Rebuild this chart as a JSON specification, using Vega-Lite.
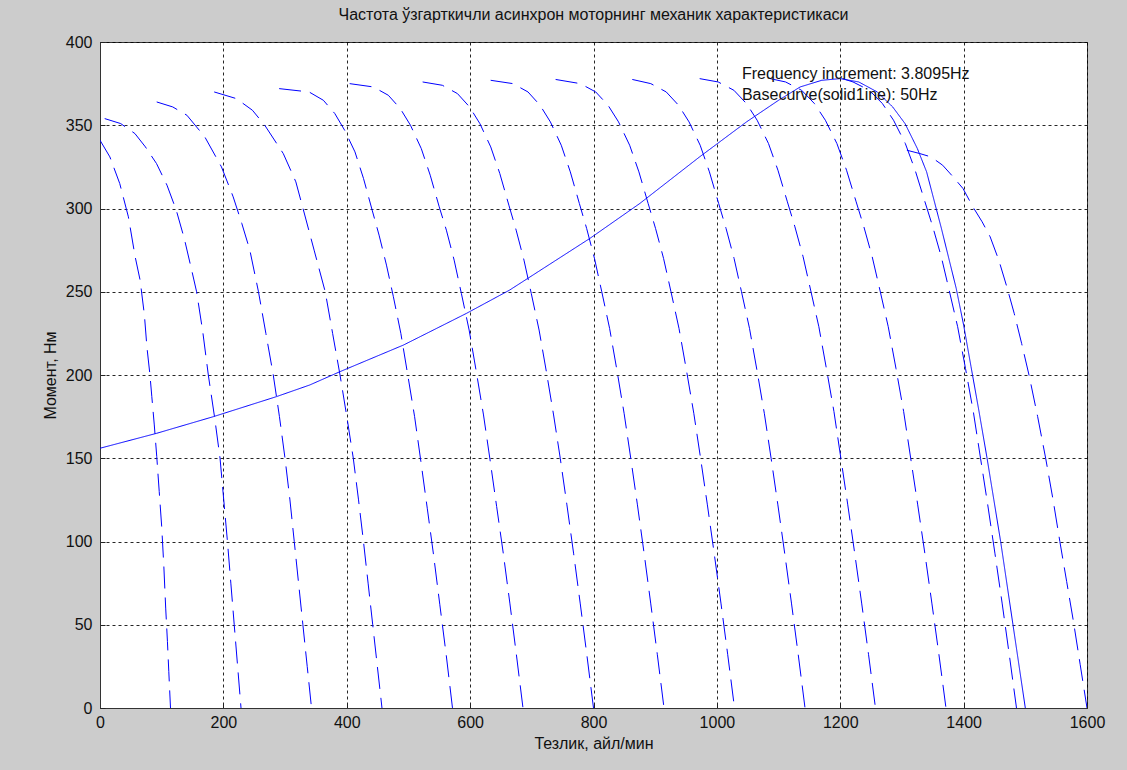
{
  "$schema": "https://vega.github.io/schema/vega-lite/v6.json",
  "width": 987,
  "height": 666,
  "autosize": {"type": "none"},
  "padding": {"left": 100, "top": 42, "right": 40, "bottom": 62},
  "background": "#cccccc",
  "config": {
    "view": {"fill": "white", "stroke": "#333333", "strokeWidth": 1},
    "font": "Liberation Sans",
    "axis": {
      "grid": true,
      "gridColor": "#000000",
      "gridDash": [3, 3],
      "gridWidth": 1,
      "gridOpacity": 0.85,
      "ticks": true,
      "tickSize": -5,
      "tickColor": "#222222",
      "domainColor": "#333333",
      "labelFont": "Liberation Sans",
      "labelFontSize": 16,
      "labelColor": "#111111",
      "titleFont": "Liberation Sans",
      "titleFontSize": 16,
      "titleFontWeight": "normal",
      "titleColor": "#111111"
    }
  },
  "title": {
    "text": "Частота ўзгарткичли асинхрон моторнинг механик характеристикаси",
    "font": "Liberation Sans",
    "fontSize": 16,
    "fontWeight": "normal",
    "color": "#111111",
    "anchor": "middle",
    "offset": 11
  },
  "datasets": {
    "curves": [
      {"c": 1, "s": "dashed", "x": 0, "y": 341}, {"c": 1, "s": "dashed", "x": 16, "y": 331}, {"c": 1, "s": "dashed", "x": 32, "y": 315}, {"c": 1, "s": "dashed", "x": 46, "y": 295}, {"c": 1, "s": "dashed", "x": 57, "y": 271}, {"c": 1, "s": "dashed", "x": 65, "y": 257}, {"c": 1, "s": "dashed", "x": 72, "y": 236}, {"c": 1, "s": "dashed", "x": 76, "y": 217}, {"c": 1, "s": "dashed", "x": 81, "y": 200}, {"c": 1, "s": "dashed", "x": 84, "y": 187}, {"c": 1, "s": "dashed", "x": 88, "y": 170}, {"c": 1, "s": "dashed", "x": 92, "y": 151}, {"c": 1, "s": "dashed", "x": 96, "y": 130}, {"c": 1, "s": "dashed", "x": 100, "y": 109}, {"c": 1, "s": "dashed", "x": 103.5, "y": 85}, {"c": 1, "s": "dashed", "x": 106.5, "y": 60}, {"c": 1, "s": "dashed", "x": 109.3, "y": 40}, {"c": 1, "s": "dashed", "x": 111.5, "y": 22}, {"c": 1, "s": "dashed", "x": 114.3, "y": 0},
      {"c": 2, "s": "dashed", "x": 7.6, "y": 354}, {"c": 2, "s": "dashed", "x": 33.6, "y": 351}, {"c": 2, "s": "dashed", "x": 56.6, "y": 345}, {"c": 2, "s": "dashed", "x": 73.6, "y": 337}, {"c": 2, "s": "dashed", "x": 91.6, "y": 327}, {"c": 2, "s": "dashed", "x": 108.6, "y": 314}, {"c": 2, "s": "dashed", "x": 123.6, "y": 299}, {"c": 2, "s": "dashed", "x": 136.6, "y": 282}, {"c": 2, "s": "dashed", "x": 148.6, "y": 263}, {"c": 2, "s": "dashed", "x": 156.6, "y": 250}, {"c": 2, "s": "dashed", "x": 166.6, "y": 226}, {"c": 2, "s": "dashed", "x": 175.6, "y": 200}, {"c": 2, "s": "dashed", "x": 185.6, "y": 175}, {"c": 2, "s": "dashed", "x": 194.6, "y": 150}, {"c": 2, "s": "dashed", "x": 200.6, "y": 125}, {"c": 2, "s": "dashed", "x": 206.6, "y": 100}, {"c": 2, "s": "dashed", "x": 212.1, "y": 75}, {"c": 2, "s": "dashed", "x": 217.6, "y": 50}, {"c": 2, "s": "dashed", "x": 223.1, "y": 25}, {"c": 2, "s": "dashed", "x": 228.6, "y": 0},
      {"c": 3, "s": "dashed", "x": 91.9, "y": 364}, {"c": 3, "s": "dashed", "x": 117.9, "y": 361}, {"c": 3, "s": "dashed", "x": 140.9, "y": 356}, {"c": 3, "s": "dashed", "x": 169.9, "y": 343}, {"c": 3, "s": "dashed", "x": 196.9, "y": 325}, {"c": 3, "s": "dashed", "x": 215.9, "y": 307}, {"c": 3, "s": "dashed", "x": 229.9, "y": 291}, {"c": 3, "s": "dashed", "x": 242.9, "y": 275}, {"c": 3, "s": "dashed", "x": 256.9, "y": 250}, {"c": 3, "s": "dashed", "x": 268.9, "y": 225}, {"c": 3, "s": "dashed", "x": 280.9, "y": 200}, {"c": 3, "s": "dashed", "x": 290.9, "y": 175}, {"c": 3, "s": "dashed", "x": 299.9, "y": 150}, {"c": 3, "s": "dashed", "x": 307.9, "y": 125}, {"c": 3, "s": "dashed", "x": 314.9, "y": 100}, {"c": 3, "s": "dashed", "x": 321.9, "y": 75}, {"c": 3, "s": "dashed", "x": 328.9, "y": 50}, {"c": 3, "s": "dashed", "x": 335.9, "y": 25}, {"c": 3, "s": "dashed", "x": 342.9, "y": 0},
      {"c": 4, "s": "dashed", "x": 185.1, "y": 370}, {"c": 4, "s": "dashed", "x": 221.1, "y": 366}, {"c": 4, "s": "dashed", "x": 247.1, "y": 359}, {"c": 4, "s": "dashed", "x": 267.1, "y": 350}, {"c": 4, "s": "dashed", "x": 297.1, "y": 333}, {"c": 4, "s": "dashed", "x": 317.5, "y": 316}, {"c": 4, "s": "dashed", "x": 329.1, "y": 300}, {"c": 4, "s": "dashed", "x": 347.1, "y": 275}, {"c": 4, "s": "dashed", "x": 365.1, "y": 250}, {"c": 4, "s": "dashed", "x": 377.1, "y": 225}, {"c": 4, "s": "dashed", "x": 389.1, "y": 200}, {"c": 4, "s": "dashed", "x": 400.1, "y": 175}, {"c": 4, "s": "dashed", "x": 410.6, "y": 150}, {"c": 4, "s": "dashed", "x": 419.1, "y": 125}, {"c": 4, "s": "dashed", "x": 427.1, "y": 100}, {"c": 4, "s": "dashed", "x": 434.6, "y": 75}, {"c": 4, "s": "dashed", "x": 442.1, "y": 50}, {"c": 4, "s": "dashed", "x": 449.6, "y": 25}, {"c": 4, "s": "dashed", "x": 457.1, "y": 0},
      {"c": 5, "s": "dashed", "x": 290.4, "y": 372}, {"c": 5, "s": "dashed", "x": 338.9, "y": 370}, {"c": 5, "s": "dashed", "x": 362.1, "y": 365}, {"c": 5, "s": "dashed", "x": 380.7, "y": 357}, {"c": 5, "s": "dashed", "x": 396.6, "y": 347}, {"c": 5, "s": "dashed", "x": 413.3, "y": 334}, {"c": 5, "s": "dashed", "x": 427.2, "y": 318}, {"c": 5, "s": "dashed", "x": 441.2, "y": 299}, {"c": 5, "s": "dashed", "x": 452.4, "y": 284}, {"c": 5, "s": "dashed", "x": 464.4, "y": 266}, {"c": 5, "s": "dashed", "x": 475.6, "y": 247}, {"c": 5, "s": "dashed", "x": 487.7, "y": 225}, {"c": 5, "s": "dashed", "x": 498.9, "y": 200}, {"c": 5, "s": "dashed", "x": 510.0, "y": 175}, {"c": 5, "s": "dashed", "x": 520.2, "y": 148}, {"c": 5, "s": "dashed", "x": 530.5, "y": 120}, {"c": 5, "s": "dashed", "x": 540.7, "y": 92}, {"c": 5, "s": "dashed", "x": 550.9, "y": 62}, {"c": 5, "s": "dashed", "x": 561.2, "y": 32}, {"c": 5, "s": "dashed", "x": 571.4, "y": 0},
      {"c": 6, "s": "dashed", "x": 404.7, "y": 375}, {"c": 6, "s": "dashed", "x": 443.2, "y": 373}, {"c": 6, "s": "dashed", "x": 467.4, "y": 368}, {"c": 6, "s": "dashed", "x": 486.8, "y": 360}, {"c": 6, "s": "dashed", "x": 503.3, "y": 350}, {"c": 6, "s": "dashed", "x": 520.8, "y": 336}, {"c": 6, "s": "dashed", "x": 535.3, "y": 320}, {"c": 6, "s": "dashed", "x": 549.9, "y": 301}, {"c": 6, "s": "dashed", "x": 561.5, "y": 287}, {"c": 6, "s": "dashed", "x": 574.1, "y": 269}, {"c": 6, "s": "dashed", "x": 585.8, "y": 249}, {"c": 6, "s": "dashed", "x": 598.4, "y": 227}, {"c": 6, "s": "dashed", "x": 610.0, "y": 202}, {"c": 6, "s": "dashed", "x": 621.7, "y": 176}, {"c": 6, "s": "dashed", "x": 632.3, "y": 149}, {"c": 6, "s": "dashed", "x": 643.0, "y": 121}, {"c": 6, "s": "dashed", "x": 653.7, "y": 93}, {"c": 6, "s": "dashed", "x": 664.4, "y": 63}, {"c": 6, "s": "dashed", "x": 675.0, "y": 32}, {"c": 6, "s": "dashed", "x": 685.7, "y": 0},
      {"c": 7, "s": "dashed", "x": 523, "y": 376}, {"c": 7, "s": "dashed", "x": 555, "y": 374}, {"c": 7, "s": "dashed", "x": 579.5, "y": 369}, {"c": 7, "s": "dashed", "x": 599.1, "y": 361}, {"c": 7, "s": "dashed", "x": 615.8, "y": 351}, {"c": 7, "s": "dashed", "x": 633.4, "y": 337}, {"c": 7, "s": "dashed", "x": 648.1, "y": 321}, {"c": 7, "s": "dashed", "x": 662.8, "y": 302}, {"c": 7, "s": "dashed", "x": 674.6, "y": 287}, {"c": 7, "s": "dashed", "x": 687.3, "y": 269}, {"c": 7, "s": "dashed", "x": 699.1, "y": 249}, {"c": 7, "s": "dashed", "x": 711.8, "y": 227}, {"c": 7, "s": "dashed", "x": 723.6, "y": 202}, {"c": 7, "s": "dashed", "x": 735.3, "y": 176}, {"c": 7, "s": "dashed", "x": 746.1, "y": 150}, {"c": 7, "s": "dashed", "x": 756.9, "y": 122}, {"c": 7, "s": "dashed", "x": 767.7, "y": 93}, {"c": 7, "s": "dashed", "x": 778.4, "y": 63}, {"c": 7, "s": "dashed", "x": 789.2, "y": 32}, {"c": 7, "s": "dashed", "x": 800, "y": 0},
      {"c": 8, "s": "dashed", "x": 633.3, "y": 377}, {"c": 8, "s": "dashed", "x": 669.3, "y": 375}, {"c": 8, "s": "dashed", "x": 693.8, "y": 370}, {"c": 8, "s": "dashed", "x": 713.4, "y": 362}, {"c": 8, "s": "dashed", "x": 730.1, "y": 352}, {"c": 8, "s": "dashed", "x": 747.7, "y": 338}, {"c": 8, "s": "dashed", "x": 762.4, "y": 322}, {"c": 8, "s": "dashed", "x": 777.1, "y": 303}, {"c": 8, "s": "dashed", "x": 788.9, "y": 288}, {"c": 8, "s": "dashed", "x": 801.6, "y": 270}, {"c": 8, "s": "dashed", "x": 813.4, "y": 250}, {"c": 8, "s": "dashed", "x": 826.1, "y": 228}, {"c": 8, "s": "dashed", "x": 837.9, "y": 203}, {"c": 8, "s": "dashed", "x": 849.6, "y": 177}, {"c": 8, "s": "dashed", "x": 860.4, "y": 150}, {"c": 8, "s": "dashed", "x": 871.2, "y": 122}, {"c": 8, "s": "dashed", "x": 882.0, "y": 93}, {"c": 8, "s": "dashed", "x": 892.7, "y": 63}, {"c": 8, "s": "dashed", "x": 903.5, "y": 32}, {"c": 8, "s": "dashed", "x": 914.3, "y": 0},
      {"c": 9, "s": "dashed", "x": 738.6, "y": 377.5}, {"c": 9, "s": "dashed", "x": 778.6, "y": 375}, {"c": 9, "s": "dashed", "x": 803.6, "y": 370}, {"c": 9, "s": "dashed", "x": 823.6, "y": 362}, {"c": 9, "s": "dashed", "x": 840.6, "y": 352}, {"c": 9, "s": "dashed", "x": 858.6, "y": 338}, {"c": 9, "s": "dashed", "x": 873.6, "y": 322}, {"c": 9, "s": "dashed", "x": 888.6, "y": 303}, {"c": 9, "s": "dashed", "x": 900.6, "y": 288}, {"c": 9, "s": "dashed", "x": 913.6, "y": 270}, {"c": 9, "s": "dashed", "x": 925.6, "y": 250}, {"c": 9, "s": "dashed", "x": 938.6, "y": 228}, {"c": 9, "s": "dashed", "x": 950.6, "y": 203}, {"c": 9, "s": "dashed", "x": 962.6, "y": 177}, {"c": 9, "s": "dashed", "x": 973.6, "y": 150}, {"c": 9, "s": "dashed", "x": 984.6, "y": 122}, {"c": 9, "s": "dashed", "x": 995.6, "y": 93}, {"c": 9, "s": "dashed", "x": 1006.6, "y": 63}, {"c": 9, "s": "dashed", "x": 1017.6, "y": 32}, {"c": 9, "s": "dashed", "x": 1028.6, "y": 0},
      {"c": 10, "s": "dashed", "x": 862.9, "y": 377.5}, {"c": 10, "s": "dashed", "x": 892.9, "y": 375}, {"c": 10, "s": "dashed", "x": 917.9, "y": 370}, {"c": 10, "s": "dashed", "x": 937.9, "y": 362}, {"c": 10, "s": "dashed", "x": 954.9, "y": 352}, {"c": 10, "s": "dashed", "x": 972.9, "y": 338}, {"c": 10, "s": "dashed", "x": 987.9, "y": 322}, {"c": 10, "s": "dashed", "x": 1002.9, "y": 303}, {"c": 10, "s": "dashed", "x": 1014.9, "y": 288}, {"c": 10, "s": "dashed", "x": 1027.9, "y": 270}, {"c": 10, "s": "dashed", "x": 1039.9, "y": 250}, {"c": 10, "s": "dashed", "x": 1052.9, "y": 228}, {"c": 10, "s": "dashed", "x": 1064.9, "y": 203}, {"c": 10, "s": "dashed", "x": 1076.9, "y": 177}, {"c": 10, "s": "dashed", "x": 1087.9, "y": 150}, {"c": 10, "s": "dashed", "x": 1098.9, "y": 122}, {"c": 10, "s": "dashed", "x": 1109.9, "y": 93}, {"c": 10, "s": "dashed", "x": 1120.9, "y": 63}, {"c": 10, "s": "dashed", "x": 1131.9, "y": 32}, {"c": 10, "s": "dashed", "x": 1142.9, "y": 0},
      {"c": 11, "s": "dashed", "x": 972.1, "y": 378}, {"c": 11, "s": "dashed", "x": 1002.1, "y": 376}, {"c": 11, "s": "dashed", "x": 1027.6, "y": 371}, {"c": 11, "s": "dashed", "x": 1048.0, "y": 363}, {"c": 11, "s": "dashed", "x": 1065.3, "y": 353}, {"c": 11, "s": "dashed", "x": 1083.7, "y": 339}, {"c": 11, "s": "dashed", "x": 1099.0, "y": 323}, {"c": 11, "s": "dashed", "x": 1114.3, "y": 304}, {"c": 11, "s": "dashed", "x": 1126.5, "y": 289}, {"c": 11, "s": "dashed", "x": 1139.8, "y": 271}, {"c": 11, "s": "dashed", "x": 1152.0, "y": 251}, {"c": 11, "s": "dashed", "x": 1165.3, "y": 229}, {"c": 11, "s": "dashed", "x": 1177.5, "y": 204}, {"c": 11, "s": "dashed", "x": 1189.8, "y": 178}, {"c": 11, "s": "dashed", "x": 1201.0, "y": 150}, {"c": 11, "s": "dashed", "x": 1212.2, "y": 122}, {"c": 11, "s": "dashed", "x": 1223.4, "y": 93}, {"c": 11, "s": "dashed", "x": 1234.7, "y": 63}, {"c": 11, "s": "dashed", "x": 1245.9, "y": 32}, {"c": 11, "s": "dashed", "x": 1257.1, "y": 0},
      {"c": 12, "s": "dashed", "x": 1086.4, "y": 378}, {"c": 12, "s": "dashed", "x": 1111.4, "y": 376}, {"c": 12, "s": "dashed", "x": 1137.4, "y": 371}, {"c": 12, "s": "dashed", "x": 1158.2, "y": 363}, {"c": 12, "s": "dashed", "x": 1175.9, "y": 353}, {"c": 12, "s": "dashed", "x": 1194.6, "y": 339}, {"c": 12, "s": "dashed", "x": 1210.2, "y": 323}, {"c": 12, "s": "dashed", "x": 1225.8, "y": 304}, {"c": 12, "s": "dashed", "x": 1238.3, "y": 289}, {"c": 12, "s": "dashed", "x": 1251.8, "y": 271}, {"c": 12, "s": "dashed", "x": 1264.3, "y": 251}, {"c": 12, "s": "dashed", "x": 1277.8, "y": 229}, {"c": 12, "s": "dashed", "x": 1290.3, "y": 204}, {"c": 12, "s": "dashed", "x": 1302.8, "y": 178}, {"c": 12, "s": "dashed", "x": 1314.2, "y": 150}, {"c": 12, "s": "dashed", "x": 1325.6, "y": 122}, {"c": 12, "s": "dashed", "x": 1337.1, "y": 93}, {"c": 12, "s": "dashed", "x": 1348.5, "y": 63}, {"c": 12, "s": "dashed", "x": 1360.0, "y": 32}, {"c": 12, "s": "dashed", "x": 1371.4, "y": 0},
      {"c": 13, "s": "dashed", "x": 1203.7, "y": 378}, {"c": 13, "s": "dashed", "x": 1220.7, "y": 376}, {"c": 13, "s": "dashed", "x": 1247.2, "y": 371}, {"c": 13, "s": "dashed", "x": 1268.4, "y": 363}, {"c": 13, "s": "dashed", "x": 1286.4, "y": 353}, {"c": 13, "s": "dashed", "x": 1305.5, "y": 339}, {"c": 13, "s": "dashed", "x": 1321.4, "y": 323}, {"c": 13, "s": "dashed", "x": 1337.3, "y": 304}, {"c": 13, "s": "dashed", "x": 1350.0, "y": 289}, {"c": 13, "s": "dashed", "x": 1363.8, "y": 271}, {"c": 13, "s": "dashed", "x": 1376.5, "y": 251}, {"c": 13, "s": "dashed", "x": 1390.3, "y": 229}, {"c": 13, "s": "dashed", "x": 1403.0, "y": 204}, {"c": 13, "s": "dashed", "x": 1415.7, "y": 178}, {"c": 13, "s": "dashed", "x": 1427.4, "y": 150}, {"c": 13, "s": "dashed", "x": 1439.1, "y": 122}, {"c": 13, "s": "dashed", "x": 1450.7, "y": 93}, {"c": 13, "s": "dashed", "x": 1462.4, "y": 63}, {"c": 13, "s": "dashed", "x": 1474.0, "y": 32}, {"c": 13, "s": "dashed", "x": 1485.7, "y": 0},
      {"c": 14, "s": "dashed", "x": 1308, "y": 335}, {"c": 14, "s": "dashed", "x": 1329, "y": 333}, {"c": 14, "s": "dashed", "x": 1347, "y": 331}, {"c": 14, "s": "dashed", "x": 1366, "y": 326}, {"c": 14, "s": "dashed", "x": 1383, "y": 319}, {"c": 14, "s": "dashed", "x": 1399, "y": 312}, {"c": 14, "s": "dashed", "x": 1415, "y": 301}, {"c": 14, "s": "dashed", "x": 1430, "y": 292}, {"c": 14, "s": "dashed", "x": 1443, "y": 283}, {"c": 14, "s": "dashed", "x": 1457, "y": 269}, {"c": 14, "s": "dashed", "x": 1470, "y": 253}, {"c": 14, "s": "dashed", "x": 1482, "y": 237}, {"c": 14, "s": "dashed", "x": 1494, "y": 219}, {"c": 14, "s": "dashed", "x": 1506, "y": 200}, {"c": 14, "s": "dashed", "x": 1520, "y": 175}, {"c": 14, "s": "dashed", "x": 1533, "y": 150}, {"c": 14, "s": "dashed", "x": 1545, "y": 125}, {"c": 14, "s": "dashed", "x": 1556, "y": 100}, {"c": 14, "s": "dashed", "x": 1567, "y": 76}, {"c": 14, "s": "dashed", "x": 1578, "y": 52}, {"c": 14, "s": "dashed", "x": 1589, "y": 26}, {"c": 14, "s": "dashed", "x": 1600, "y": 0},
      {"c": 0, "s": "solid", "x": 0, "y": 156}, {"c": 0, "s": "solid", "x": 92, "y": 165}, {"c": 0, "s": "solid", "x": 184, "y": 175}, {"c": 0, "s": "solid", "x": 286, "y": 187}, {"c": 0, "s": "solid", "x": 340, "y": 194}, {"c": 0, "s": "solid", "x": 389, "y": 202}, {"c": 0, "s": "solid", "x": 492, "y": 218}, {"c": 0, "s": "solid", "x": 594, "y": 237}, {"c": 0, "s": "solid", "x": 664, "y": 251}, {"c": 0, "s": "solid", "x": 794, "y": 282}, {"c": 0, "s": "solid", "x": 875, "y": 303}, {"c": 0, "s": "solid", "x": 972, "y": 331}, {"c": 0, "s": "solid", "x": 1048, "y": 352}, {"c": 0, "s": "solid", "x": 1100, "y": 365}, {"c": 0, "s": "solid", "x": 1135, "y": 373}, {"c": 0, "s": "solid", "x": 1170, "y": 377}, {"c": 0, "s": "solid", "x": 1200, "y": 378}, {"c": 0, "s": "solid", "x": 1230, "y": 376}, {"c": 0, "s": "solid", "x": 1260, "y": 370}, {"c": 0, "s": "solid", "x": 1285, "y": 361}, {"c": 0, "s": "solid", "x": 1305, "y": 351}, {"c": 0, "s": "solid", "x": 1325, "y": 336}, {"c": 0, "s": "solid", "x": 1340, "y": 322}, {"c": 0, "s": "solid", "x": 1352, "y": 305}, {"c": 0, "s": "solid", "x": 1364, "y": 288}, {"c": 0, "s": "solid", "x": 1376, "y": 270}, {"c": 0, "s": "solid", "x": 1388, "y": 252}, {"c": 0, "s": "solid", "x": 1400, "y": 230}, {"c": 0, "s": "solid", "x": 1412, "y": 205}, {"c": 0, "s": "solid", "x": 1425, "y": 178}, {"c": 0, "s": "solid", "x": 1438, "y": 150}, {"c": 0, "s": "solid", "x": 1449, "y": 125}, {"c": 0, "s": "solid", "x": 1460, "y": 100}, {"c": 0, "s": "solid", "x": 1470, "y": 75}, {"c": 0, "s": "solid", "x": 1480, "y": 50}, {"c": 0, "s": "solid", "x": 1490, "y": 25}, {"c": 0, "s": "solid", "x": 1500, "y": 0}
    ],
    "notes": [
      {"x": 1040.6, "y": 380.8, "t": "Frequency increment: 3.8095Hz"},
      {"x": 1040.6, "y": 368.2, "t": "Basecurve(solid1ine): 50Hz"}
    ]
  },
  "layer": [
    {
      "data": {"name": "curves"},
      "mark": {"type": "line", "color": "#0000ff", "strokeWidth": 1, "clip": true},
      "encoding": {
        "x": {
          "field": "x", "type": "quantitative",
          "scale": {"domain": [0, 1600], "nice": false, "zero": false},
          "axis": {"values": [0, 200, 400, 600, 800, 1000, 1200, 1400, 1600], "format": "d", "title": "Тезлик, айл/мин", "labelPadding": 11, "titlePadding": 5, "labelFlush": false, "labelOverlap": false}
        },
        "y": {
          "field": "y", "type": "quantitative",
          "scale": {"domain": [0, 400], "nice": false},
          "axis": {"values": [0, 50, 100, 150, 200, 250, 300, 350, 400], "format": "d", "title": "Момент, Нм", "labelPadding": 13, "titlePadding": 7, "labelFlush": false, "labelOverlap": false}
        },
        "detail": {"field": "c", "type": "nominal"},
        "strokeDash": {
          "field": "s", "type": "nominal",
          "scale": {"domain": ["dashed", "solid"], "range": [[22, 9], [1, 0]]},
          "legend": null
        }
      }
    },
    {
      "data": {"name": "notes"},
      "mark": {"type": "text", "align": "left", "baseline": "middle", "font": "Liberation Sans", "fontSize": 16, "color": "#111111"},
      "encoding": {
        "x": {"field": "x", "type": "quantitative"},
        "y": {"field": "y", "type": "quantitative"},
        "text": {"field": "t"}
      }
    }
  ]
}
